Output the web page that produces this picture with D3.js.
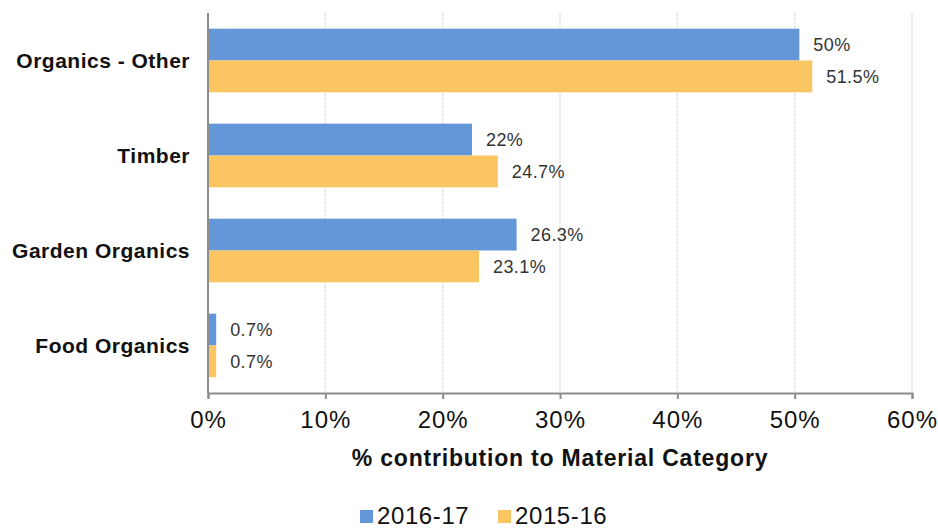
<!DOCTYPE html>
<html>
<head>
<meta charset="utf-8">
<script src="https://cdn.jsdelivr.net/npm/d3@7"></script>
<style>
  body { margin: 0; background: #fff; }
  text { font-family: "Liberation Sans", Arial, sans-serif; }
</style>
</head>
<body>
<div id="chart"></div>
<script>
var categories = ["Organics - Other", "Timber", "Garden Organics", "Food Organics"];
var series = ["2016-17", "2015-16"];
var values2016 = [50.4, 22.5, 26.3, 0.7];
var values2015 = [51.5, 24.7, 23.1, 0.7];
var labels2016 = ["50%", "22%", "26.3%", "0.7%"];
var labels2015 = ["51.5%", "24.7%", "23.1%", "0.7%"];
var xTicks = [0, 10, 20, 30, 40, 50, 60];
var colors = ["#6497D8", "#FBC562"];

var margin = { top: 13, left: 208, right: 26, bottom: 137 };
var width = 938 - margin.left - margin.right;
var height = 530 - margin.top - margin.bottom;

var svg = d3.select("#chart").append("svg")
    .attr("width", 938)
    .attr("height", 530)
    .append("g")
    .attr("transform", "translate(" + margin.left + "," + margin.top + ")");

var x = d3.scaleLinear().domain([0, 60]).range([0, width]);
var y = d3.scaleBand().domain(categories).range([0, height]).paddingInner(0.33).paddingOuter(0.165);
var ySub = d3.scaleBand().domain(series).range([0, y.bandwidth()]);

// gridlines
svg.selectAll(".grid")
    .data(xTicks.slice(1))
    .enter().append("line")
    .attr("class", "grid")
    .attr("x1", function (d) { return x(d); })
    .attr("x2", function (d) { return x(d); })
    .attr("y1", 0)
    .attr("y2", height)
    .attr("stroke", "#e2e2e2")
    .attr("stroke-width", 1.5)
    .attr("stroke-dasharray", "3,1");

var rows = categories.map(function (c, i) {
    return [
        { cat: c, s: series[0], v: values2016[i], label: labels2016[i] },
        { cat: c, s: series[1], v: values2015[i], label: labels2015[i] }
    ];
});
var flat = [].concat.apply([], rows);

svg.selectAll(".bar")
    .data(flat)
    .enter().append("rect")
    .attr("class", "bar")
    .attr("x", 0)
    .attr("y", function (d) { return y(d.cat) + ySub(d.s); })
    .attr("width", function (d) { return x(d.v); })
    .attr("height", ySub.bandwidth())
    .attr("fill", function (d) { return colors[series.indexOf(d.s)]; });

svg.selectAll(".vlabel")
    .data(flat)
    .enter().append("text")
    .attr("class", "vlabel")
    .attr("x", function (d) { return x(d.v) + 14; })
    .attr("y", function (d) { return y(d.cat) + ySub(d.s) + ySub.bandwidth() / 2; })
    .attr("dy", "0.35em")
    .attr("font-size", "18px")
    .attr("letter-spacing", "0.4px")
    .attr("fill", "#333")
    .text(function (d) { return d.label; });

// y axis
svg.append("line")
    .attr("x1", 0).attr("x2", 0)
    .attr("y1", 0).attr("y2", height)
    .attr("stroke", "#8c8c8c")
    .attr("stroke-width", 2);

svg.selectAll(".cat")
    .data(categories)
    .enter().append("text")
    .attr("class", "cat")
    .attr("x", -18)
    .attr("y", function (d) { return y(d) + y.bandwidth() / 2; })
    .attr("dy", "0.35em")
    .attr("text-anchor", "end")
    .attr("font-size", "21px")
    .attr("letter-spacing", "0.5px")
    .attr("font-weight", "bold")
    .attr("fill", "#111")
    .text(function (d) { return d; });

// x axis
var xAxis = d3.axisBottom(x)
    .tickValues(xTicks)
    .tickSize(6)
    .tickPadding(12)
    .tickFormat(function (d) { return d + "%"; });

var gx = svg.append("g")
    .attr("transform", "translate(0," + height + ")")
    .call(xAxis);
gx.select(".domain").attr("stroke", "#8c8c8c").attr("stroke-width", 2);
gx.selectAll(".tick line").attr("stroke", "#8c8c8c").attr("stroke-width", 2);
gx.selectAll(".tick text")
    .attr("font-size", "24px")
    .attr("letter-spacing", "1px")
    .attr("fill", "#111")
    .style("font-family", "'Liberation Sans', Arial, sans-serif");

svg.append("text")
    .attr("x", x(30))
    .attr("y", height + 73)
    .attr("text-anchor", "middle")
    .attr("font-size", "23px")
    .attr("letter-spacing", "0.8px")
    .attr("font-weight", "bold")
    .attr("fill", "#111")
    .text("% contribution to Material Category");

// legend
var legend = svg.selectAll(".legend")
    .data(series)
    .enter().append("g")
    .attr("class", "legend")
    .attr("transform", function (d, i) { return "translate(" + (152 + i * 138) + "," + (height + 131) + ")"; });

legend.append("rect")
    .attr("x", 0)
    .attr("y", -14)
    .attr("width", 13)
    .attr("height", 13)
    .attr("fill", function (d, i) { return colors[i]; });

legend.append("text")
    .attr("x", 17)
    .attr("y", 0)
    .attr("font-size", "24px")
    .attr("letter-spacing", "0.6px")
    .attr("fill", "#111")
    .text(function (d) { return d; });
</script>
</body>
</html>
